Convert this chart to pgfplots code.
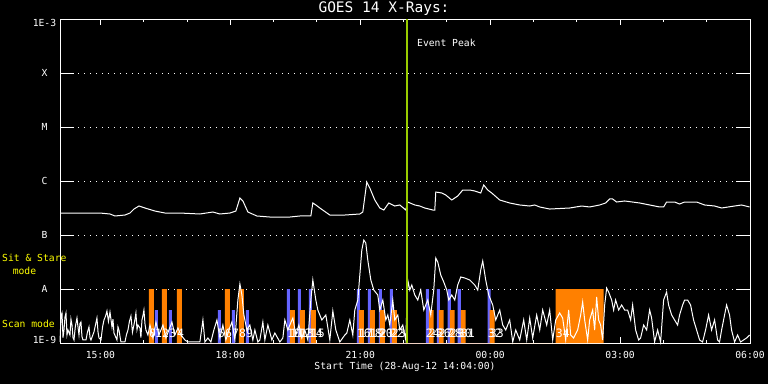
\documentclass[border=0pt]{standalone}
\usepackage{pgfplots}
\pgfplotsset{compat=1.18}
\usepackage{fontspec}
\setmainfont{DejaVu Sans Mono}
\definecolor{ssorange}{RGB}{255,128,0}
\definecolor{ssblue}{RGB}{100,100,255}
\definecolor{evgreen}{RGB}{153,204,0}
\definecolor{labyellow}{RGB}{255,255,0}
\begin{document}
\begin{tikzpicture}[font=\fontsize{9.7}{11.6}\selectfont]
\useasboundingbox (0pt,0pt) rectangle (768pt,384pt);
\fill[black] (0pt,0pt) rectangle (768pt,384pt);
% y ticks, labels and dotted grid
\begin{axis}[at={(60pt,41pt)}, anchor=south west, scale only axis,
  width=690pt, height=324pt,
  xmin=14.0667, xmax=30, ymin=-9, ymax=-3,
  axis line style={white, line width=1pt},
  xtick=\empty,
  ytick={-9,-8,-7,-6,-5,-4,-3},
  yticklabels={\raisebox{3pt}[\height][\depth]{1E-9},A,B,C,M,X,\raisebox{-4pt}[\height][\depth]{1E-3}},
  major tick length=14pt,
  tick style={white, line width=1pt},
  ymajorgrids,
  grid style={white, line width=1pt, dash pattern=on 1pt off 5pt},
  yticklabel style={white, anchor=center, xshift=-15.5pt},
]
\end{axis}
% data axis
\begin{axis}[at={(60pt,41pt)}, anchor=south west, scale only axis,
  width=690pt, height=324pt,
  xmin=14.0667, xmax=30, ymin=-9, ymax=-3,
  axis line style={white, line width=1pt},
  ytick=\empty,
  xtick={15,18,21,24,27,30},
  xticklabels={15:00,18:00,21:00,00:00,03:00,06:00},
  minor xtick={16,17,19,20,22,23,25,26,28,29},
  major tick length=6pt, minor tick length=3pt,
  tick style={white, line width=1pt},
  xticklabel style={white, yshift=-5pt},
  clip=false,
]
% blue short bars (groups 1-2)
\addplot[fill=ssblue, draw=none] coordinates {
(16.259,-9)(16.259,-8.389)(16.328,-8.389)(16.328,-9)
(16.582,-9)(16.582,-8.389)(16.651,-8.389)(16.651,-9)
(17.713,-9)(17.713,-8.389)(17.782,-8.389)(17.782,-9)
(18.036,-9)(18.036,-8.389)(18.105,-8.389)(18.105,-9)
(18.359,-9)(18.359,-8.389)(18.428,-8.389)(18.428,-9)};
% blue tall bars
\addplot[fill=ssblue, draw=none] coordinates {
(19.305,-9)(19.305,-8)(19.374,-8)(19.374,-9)
(19.559,-9)(19.559,-8)(19.628,-8)(19.628,-9)
(19.813,-9)(19.813,-8)(19.882,-8)(19.882,-9)
(20.920,-9)(20.920,-8)(20.990,-8)(20.990,-9)
(21.174,-9)(21.174,-8)(21.244,-8)(21.244,-9)
(21.428,-9)(21.428,-8)(21.497,-8)(21.497,-9)
(21.682,-9)(21.682,-8)(21.751,-8)(21.751,-9)
(22.513,-9)(22.513,-8)(22.582,-8)(22.582,-9)
(22.767,-9)(22.767,-8)(22.836,-8)(22.836,-9)
(23.020,-9)(23.020,-8)(23.090,-8)(23.090,-9)
(23.251,-9)(23.251,-8)(23.321,-8)(23.321,-9)
(23.944,-9)(23.944,-8)(24.013,-8)(24.013,-9)};
% orange tall bars
\addplot[fill=ssorange, draw=none] coordinates {
(16.120,-9)(16.120,-8)(16.236,-8)(16.236,-9)
(16.420,-9)(16.420,-8)(16.536,-8)(16.536,-9)
(16.767,-9)(16.767,-8)(16.882,-8)(16.882,-9)
(17.874,-9)(17.874,-8)(17.990,-8)(17.990,-9)
(18.197,-9)(18.197,-8)(18.313,-8)(18.313,-9)
(25.513,-9)(25.513,-8)(26.621,-8)(26.621,-9)};
% orange short bars
\addplot[fill=ssorange, draw=none] coordinates {
(19.374,-9)(19.374,-8.389)(19.490,-8.389)(19.490,-9)
(19.605,-9)(19.605,-8.389)(19.720,-8.389)(19.720,-9)
(19.859,-9)(19.859,-8.389)(19.974,-8.389)(19.974,-9)
(20.967,-9)(20.967,-8.389)(21.082,-8.389)(21.082,-9)
(21.221,-9)(21.221,-8.389)(21.336,-8.389)(21.336,-9)
(21.451,-9)(21.451,-8.389)(21.567,-8.389)(21.567,-9)
(21.728,-9)(21.728,-8.389)(21.844,-8.389)(21.844,-9)
(22.582,-9)(22.582,-8.389)(22.697,-8.389)(22.697,-9)
(22.813,-9)(22.813,-8.389)(22.928,-8.389)(22.928,-9)
(23.067,-9)(23.067,-8.389)(23.182,-8.389)(23.182,-9)
(23.321,-9)(23.321,-8.389)(23.436,-8.389)(23.436,-9)
(23.990,-9)(23.990,-8.389)(24.105,-8.389)(24.105,-9)};
% upper GOES channel
\addplot[white, line width=1pt] table {
14.067 -6.593
14.528 -6.593
14.990 -6.593
15.221 -6.611
15.336 -6.648
15.567 -6.630
15.682 -6.593
15.774 -6.519
15.890 -6.463
16.028 -6.500
16.259 -6.556
16.490 -6.593
16.836 -6.593
17.297 -6.611
17.598 -6.574
17.759 -6.611
17.990 -6.593
18.128 -6.556
18.221 -6.315
18.290 -6.370
18.405 -6.574
18.613 -6.648
18.913 -6.667
19.374 -6.667
19.605 -6.648
19.859 -6.648
19.905 -6.407
19.974 -6.444
20.067 -6.500
20.297 -6.630
20.644 -6.630
20.990 -6.611
21.059 -6.574
21.151 -6.019
21.221 -6.130
21.336 -6.352
21.451 -6.500
21.544 -6.537
21.659 -6.407
21.797 -6.463
21.913 -6.444
22.051 -6.537
22.097 -6.389
22.259 -6.444
22.374 -6.463
22.490 -6.500
22.674 -6.537
22.721 -6.537
22.744 -6.204
22.882 -6.222
22.974 -6.259
23.113 -6.352
23.251 -6.278
23.367 -6.167
23.528 -6.167
23.644 -6.185
23.782 -6.222
23.851 -6.074
23.944 -6.167
24.036 -6.222
24.221 -6.352
24.451 -6.407
24.682 -6.444
24.913 -6.463
25.028 -6.444
25.144 -6.481
25.374 -6.519
25.836 -6.500
26.113 -6.463
26.297 -6.481
26.528 -6.444
26.667 -6.407
26.759 -6.333
26.828 -6.333
26.920 -6.389
27.105 -6.370
27.451 -6.407
27.682 -6.444
27.913 -6.481
28.005 -6.481
28.074 -6.389
28.259 -6.389
28.374 -6.426
28.490 -6.389
28.767 -6.389
28.951 -6.444
29.182 -6.463
29.344 -6.500
29.644 -6.463
29.805 -6.444
29.990 -6.481
};
% lower channel
\addplot[white, line width=1pt] table {
14.067 -8.981
14.090 -8.500
14.113 -8.444
14.136 -8.900
14.159 -8.759
14.182 -8.520
14.205 -8.444
14.228 -8.850
14.251 -8.759
14.297 -8.852
14.320 -8.560
14.344 -8.667
14.367 -8.900
14.390 -8.944
14.420 -8.700
14.459 -8.537
14.482 -8.700
14.505 -8.852
14.528 -8.640
14.551 -8.611
14.574 -8.880
14.597 -8.944
14.667 -8.944
14.700 -8.800
14.736 -8.704
14.760 -8.900
14.782 -8.944
14.851 -8.796
14.890 -8.650
14.920 -8.537
14.945 -8.800
14.967 -8.907
15.013 -8.944
15.050 -8.700
15.082 -8.574
15.120 -8.500
15.151 -8.407
15.185 -8.600
15.221 -8.426
15.267 -8.704
15.290 -8.560
15.313 -8.815
15.382 -8.944
15.405 -8.700
15.428 -8.759
15.474 -8.981
15.567 -8.981
15.600 -8.850
15.636 -8.759
15.670 -8.600
15.705 -8.500
15.740 -8.800
15.774 -8.667
15.800 -8.550
15.820 -8.444
15.845 -8.750
15.867 -8.667
15.913 -8.722
15.935 -8.900
15.959 -8.574
15.980 -8.500
16.005 -8.389
16.030 -8.650
16.051 -8.759
16.097 -8.852
16.144 -8.667
16.213 -8.907
16.282 -8.611
16.351 -8.852
16.444 -8.667
16.513 -8.907
16.582 -8.759
16.651 -8.611
16.720 -8.852
16.790 -8.722
16.859 -8.852
16.951 -8.944
17.020 -8.981
17.297 -8.981
17.367 -8.574
17.413 -8.981
17.482 -8.907
17.551 -8.981
17.620 -8.759
17.690 -8.574
17.759 -8.907
17.828 -8.667
17.897 -8.944
17.967 -8.759
18.036 -8.611
18.105 -8.944
18.174 -8.204
18.221 -7.907
18.267 -8.111
18.313 -8.481
18.382 -8.759
18.451 -8.667
18.520 -8.944
18.567 -8.759
18.636 -8.981
18.682 -8.944
18.751 -8.611
18.797 -8.944
18.867 -8.667
18.959 -8.944
19.028 -8.815
19.144 -8.981
19.213 -8.907
19.259 -8.574
19.328 -8.759
19.374 -8.667
19.444 -8.537
19.513 -8.852
19.582 -8.667
19.651 -8.907
19.720 -8.759
19.790 -8.944
19.859 -8.204
19.905 -7.833
19.974 -8.204
20.020 -8.389
20.113 -8.574
20.205 -8.481
20.297 -8.944
20.367 -8.407
20.436 -8.759
20.528 -8.981
20.644 -8.852
20.690 -8.815
20.759 -8.574
20.828 -8.852
20.874 -8.389
20.944 -8.204
21.036 -7.278
21.082 -7.093
21.128 -7.148
21.174 -7.463
21.244 -7.833
21.313 -8.019
21.405 -8.111
21.451 -8.389
21.521 -8.204
21.590 -8.574
21.636 -8.481
21.682 -8.667
21.751 -8.204
21.797 -8.574
21.867 -8.481
21.913 -8.759
21.982 -8.667
22.051 -8.944
22.097 -7.833
22.144 -8.019
22.190 -7.926
22.259 -8.111
22.328 -8.204
22.397 -8.019
22.467 -8.389
22.559 -8.204
22.628 -8.481
22.697 -8.019
22.744 -7.426
22.790 -7.500
22.859 -7.741
22.928 -7.870
22.997 -8.019
23.044 -8.204
23.113 -8.111
23.182 -8.204
23.251 -7.926
23.321 -7.778
23.413 -7.796
23.528 -7.833
23.644 -7.926
23.713 -8.019
23.782 -7.648
23.828 -7.481
23.897 -7.833
23.967 -8.111
24.059 -8.296
24.128 -8.574
24.221 -8.389
24.290 -8.667
24.359 -8.759
24.451 -8.574
24.521 -8.981
24.590 -8.759
24.682 -8.944
24.774 -8.574
24.844 -8.944
24.913 -8.537
24.982 -8.907
25.074 -8.481
25.144 -8.759
25.213 -8.389
25.305 -8.667
25.374 -8.389
25.444 -8.944
25.513 -8.574
25.605 -8.444
25.674 -8.537
25.744 -8.944
25.813 -8.389
25.859 -8.852
25.928 -8.907
26.020 -8.759
26.090 -8.481
26.136 -8.241
26.182 -8.574
26.251 -8.944
26.297 -8.574
26.367 -8.389
26.413 -8.759
26.459 -8.148
26.505 -8.574
26.551 -8.667
26.597 -8.944
26.644 -8.296
26.690 -7.981
26.736 -8.056
26.805 -8.204
26.851 -8.389
26.897 -8.204
26.967 -8.389
27.036 -8.296
27.105 -8.389
27.174 -8.389
27.244 -8.574
27.290 -8.296
27.359 -8.759
27.428 -8.944
27.474 -8.907
27.544 -8.667
27.613 -8.759
27.682 -8.389
27.728 -8.537
27.797 -8.981
27.867 -8.759
27.936 -8.981
28.005 -8.204
28.074 -8.056
28.120 -8.296
28.190 -8.481
28.259 -8.574
28.328 -8.667
28.374 -8.481
28.444 -8.296
28.490 -8.204
28.559 -8.204
28.628 -8.296
28.697 -8.574
28.767 -8.759
28.836 -8.944
28.905 -8.981
28.974 -8.759
29.044 -8.481
29.113 -8.759
29.182 -8.574
29.251 -8.944
29.297 -8.981
29.344 -8.759
29.413 -8.481
29.459 -8.296
29.528 -8.481
29.574 -8.759
29.644 -8.981
29.713 -8.852
29.782 -8.981
29.851 -8.944
29.921 -8.907
29.990 -8.852
};
% event peak
\addplot[evgreen, line width=2pt] coordinates {(22.074,-9) (22.074,-3)};
% event numbers
\foreach \t/\n in {16.120/0,16.259/1,16.420/2,16.582/3,16.767/4,
  17.713/5,17.874/6,18.036/7,18.197/8,18.359/9,
  19.305/10,19.374/11,19.559/12,19.605/13,19.813/14,19.859/15,
  20.920/16,20.967/17,21.174/18,21.221/19,21.428/20,21.451/21,21.682/22,21.728/23,
  22.513/24,22.582/25,22.767/26,22.813/27,23.020/28,23.067/29,23.251/30,23.321/31,
  23.944/32,23.990/33,25.513/34}{
  \edef\tmp{\noexpand\node[white, anchor=base west, inner sep=0pt, font=\noexpand\fontsize{11.5}{13}\noexpand\selectfont] at (axis cs:\t,-8.889) {\n};}\tmp
}
\end{axis}
\node[white, font=\fontsize{14.5}{16}\selectfont] at (384pt,375pt) {GOES 14 X-Rays:};
\node[white] at (405pt,17pt) {Start Time (28-Aug-12 14:04:00)};
\node[white, anchor=west, inner sep=0pt] at (417pt,341pt) {Event Peak};
\node[labyellow, anchor=west, inner sep=0pt] at (2pt,126pt) {Sit \& Stare};
\node[labyellow, inner sep=0pt] at (24.5pt,113pt) {mode};
\node[labyellow, anchor=west, inner sep=0pt] at (2pt,60pt) {Scan mode};
\end{tikzpicture}
\end{document}
